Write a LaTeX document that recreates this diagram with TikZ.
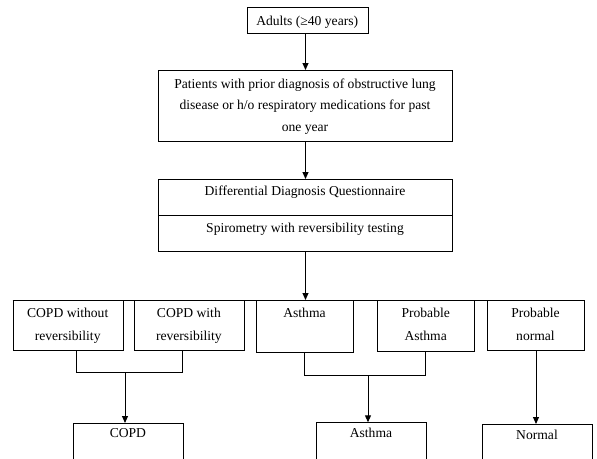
\documentclass[tikz,border=0pt]{standalone}
\usepackage{fontspec}
\setmainfont{Liberation Serif}
\usetikzlibrary{arrows.meta}
\begin{document}
\begin{tikzpicture}[x=1pt,y=-1pt,
  box/.style={draw, line width=1pt, inner sep=0pt, anchor=north west},
  txt/.style={font=\fontsize{13.6}{23}\selectfont, align=center, inner sep=0pt, anchor=base},
  conn/.style={line width=1pt},
  arr/.style={line width=1pt, -{Triangle[width=6pt,length=7pt]}}]
\clip (0,0) rectangle (597,458);
\fill[white] (0,0) rectangle (597,458);
% boxes
\node[box, minimum width=121pt, minimum height=26pt] (adults) at (246.7,7.3) {};
\node[box, minimum width=293.4pt, minimum height=70.7pt] (patients) at (158.3,70) {};
\node[box, minimum width=293.4pt, minimum height=36pt] (ddqa) at (158.3,179) {};
\node[box, minimum width=293.4pt, minimum height=36pt] (ddqb) at (158.3,215) {};
\node[box, minimum width=110pt, minimum height=50.3pt] (cw) at (12.7,300) {};
\node[box, minimum width=109.7pt, minimum height=50.3pt] (cr) at (134,300) {};
\node[box, minimum width=97pt, minimum height=51.7pt] (as) at (256,300) {};
\node[box, minimum width=97.3pt, minimum height=51pt] (pa) at (377,300) {};
\node[box, minimum width=97.6pt, minimum height=50pt] (pn) at (486.7,300) {};
\node[box, minimum width=109.7pt, minimum height=60pt] (copd) at (73,423) {};
\node[box, minimum width=110pt, minimum height=60pt] (asth) at (316,422.3) {};
\node[box, minimum width=109.7pt, minimum height=60pt] (norm) at (482.3,424) {};
% texts
\node[txt] (tadults) at (307.2,25) {Adults (≥40 years)};
\node[txt, font=\fontsize{13.6}{21.4}\selectfont] (tpatients) at (305,131.3) {Patients with prior diagnosis of obstructive lung\\disease or h/o respiratory medications for past\\one year};
\node[txt] (tddqa) at (305,195) {Differential Diagnosis Questionnaire};
\node[txt] (tddqb) at (305,232.6) {Spirometry with reversibility testing};
\node[txt] (tcw) at (67.7,340) {COPD without\\reversibility};
\node[txt] (tcr) at (188.9,340) {COPD with\\reversibility};
\node[txt] (tas) at (304.5,317) {Asthma};
\node[txt] (tpa) at (425.7,340) {Probable\\Asthma};
\node[txt] (tpn) at (535.5,340) {Probable\\normal};
\node[txt] (tcopd) at (127.9,437.5) {COPD};
\node[txt] (tasth) at (371,437.5) {Asthma};
\node[txt] (tnorm) at (537,439.5) {Normal};
% connectors
\draw[arr] (adults.south -| patients.north) -- (patients.north);
\draw[arr] (patients.south) -- (ddqa.north);
\draw[conn] (cw.north west) -- (pn.north east);
\draw[arr] (ddqb.south) -- (ddqb.south |- cw.north);
\coordinate (j1a) at (76,372.7);
\coordinate (j1b) at (182.7,372.7);
\coordinate (j1) at (125,372.7);
\draw[conn] (cw.south -| j1a) -- (j1a) -- (j1b) -- (cr.south -| j1b);
\draw[arr] (j1) -- (j1 |- copd.north);
\coordinate (j2a) at (304.3,375.7);
\coordinate (j2b) at (425.7,375.7);
\coordinate (j2) at (368,375.7);
\draw[conn] (as.south -| j2a) -- (j2a) -- (j2b) -- (pa.south -| j2b);
\draw[arr] (j2) -- (j2 |- asth.north);
\draw[arr] (pn.south) -- (pn.south |- norm.north);
\end{tikzpicture}
\end{document}
